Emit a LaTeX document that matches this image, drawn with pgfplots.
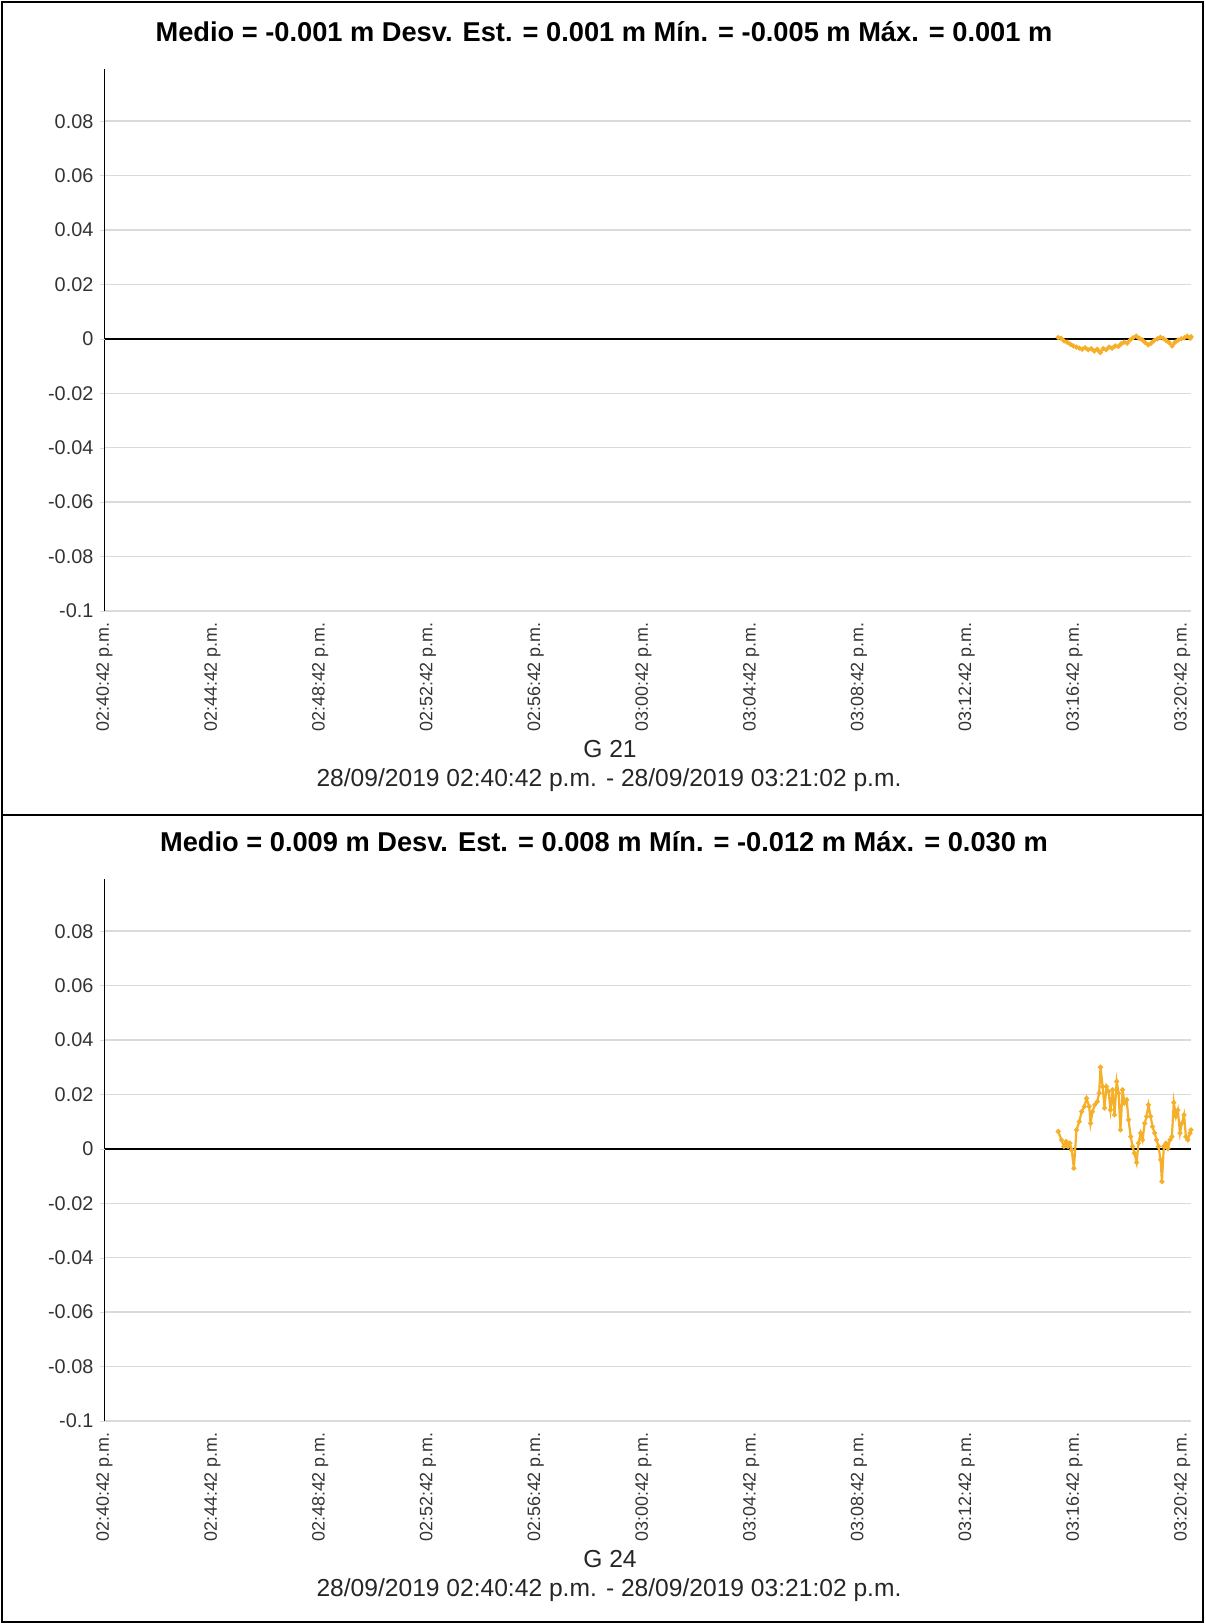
\documentclass[border=0pt]{standalone}
\usepackage{fontspec}
\setmainfont{Liberation Sans}
\usepackage{pgfplots}
\pgfplotsset{compat=1.18}

\definecolor{serie}{RGB}{245,175,40}
\definecolor{rejilla}{RGB}{218,218,218}

% minutes since 02:40:42 p.m., value in m
\pgfplotstableread{
m v
35.40 0.0005
35.51 0.0002
35.62 -0.0008
35.73 -0.0012
35.85 -0.0020
35.96 -0.0026
36.07 -0.0030
36.18 -0.0034
36.29 -0.0038
36.40 -0.0033
36.51 -0.0040
36.63 -0.0036
36.74 -0.0045
36.85 -0.0038
36.96 -0.0050
37.07 -0.0036
37.18 -0.0040
37.29 -0.0030
37.40 -0.0034
37.52 -0.0026
37.63 -0.0028
37.74 -0.0018
37.85 -0.0012
37.96 -0.0016
38.07 -0.0004
38.18 0.0004
38.30 0.0010
38.41 0.0002
38.52 -0.0004
38.63 -0.0014
38.74 -0.0022
38.85 -0.0016
38.96 -0.0006
39.08 0.0000
39.19 0.0006
39.30 0.0002
39.41 -0.0006
39.52 -0.0014
39.63 -0.0026
39.74 -0.0012
39.85 -0.0004
39.97 0.0000
40.08 0.0004
40.19 0.0010
40.30 0.0002
40.33 0.0008
}\gveintiuno

\pgfplotstableread{
m v
35.40 0.0064
35.52 0.0033
35.61 0.0009
35.69 0.0027
35.77 0.0009
35.83 0.0021
35.90 -0.0004
35.98 -0.0071
36.08 0.0070
36.18 0.0100
36.27 0.0137
36.37 0.0156
36.45 0.0186
36.55 0.0156
36.60 0.0094
36.67 0.0137
36.76 0.0162
36.85 0.0174
36.92 0.0205
36.97 0.0300
37.05 0.0229
37.12 0.0150
37.19 0.0229
37.27 0.0211
37.34 0.0143
37.42 0.0217
37.49 0.0125
37.57 0.0248
37.64 0.0205
37.71 0.0070
37.79 0.0217
37.86 0.0168
37.94 0.0180
38.01 0.0107
38.09 0.0045
38.16 0.0009
38.23 -0.0016
38.31 -0.0050
38.38 0.0021
38.46 0.0058
38.53 0.0033
38.61 0.0094
38.68 0.0119
38.75 0.0162
38.83 0.0119
38.90 0.0082
38.98 0.0058
39.05 0.0033
39.12 0.0009
39.20 -0.0040
39.25 -0.0120
39.32 0.0009
39.40 0.0021
39.47 0.0002
39.55 0.0033
39.62 0.0045
39.69 0.0170
39.77 0.0119
39.84 0.0143
39.92 0.0058
39.99 0.0094
40.07 0.0125
40.14 0.0045
40.21 0.0033
40.29 0.0058
40.33 0.0070
}\gveinticuatro

\pgfplotsset{
  panel/.style={
    scale only axis, width=217.3mm, height=108.3mm,
    xmin=0, xmax=40.333, ymin=-0.1, ymax=0.099,
    separate axis lines,
    axis x line*=bottom, axis y line*=left,
    x axis line style={draw=rejilla, -},
    y axis line style={draw=black, line width=0.8pt, -},
    ymajorgrids, major grid style={rejilla, line width=0.8pt},
    ytick={-0.1,-0.08,-0.06,-0.04,-0.02,0.02,0.04,0.06,0.08},
    yticklabels={-0.1,-0.08,-0.06,-0.04,-0.02,0.02,0.04,0.06,0.08},
    extra y ticks={0}, extra y tick labels={0},
    extra y tick style={major grid style={black, line width=0.9pt}},
    xtick={0,4,...,40},
    xticklabels={02:40:42 p.m.,02:44:42 p.m.,02:48:42 p.m.,02:52:42 p.m.,
      02:56:42 p.m.,03:00:42 p.m.,03:04:42 p.m.,03:08:42 p.m.,
      03:12:42 p.m.,03:16:42 p.m.,03:20:42 p.m.},
    tick align=outside, major tick length=1mm,
    xtick style={draw=none}, ytick style={draw=rejilla},
    yticklabel style={font=\fontsize{11.3}{13}\selectfont, text=black!80},
    xticklabel style={rotate=90, anchor=east, font=\fontsize{10.2}{12}\selectfont, text=black!80},
  },
  linea/.style={serie, line width=1.25pt, mark=*, mark size=0.7pt,
    mark options={fill=serie, draw=serie}},
}

\begin{document}
\begin{tikzpicture}
\useasboundingbox (0,0) rectangle (241mm,324.8mm);
\draw[line width=0.45mm] (0.4mm,324.4mm) rectangle (240.6mm,161.8mm);
\draw[line width=0.45mm] (0.4mm,161.8mm) rectangle (240.6mm,0.4mm);

\begin{axis}[panel, at={(20.92mm,202.6mm)}, anchor=south west]
\addplot[linea] table[x=m, y=v] {\gveintiuno};
\end{axis}

\begin{axis}[panel, at={(20.92mm,40.6mm)}, anchor=south west]
\addplot[linea] table[x=m, y=v] {\gveinticuatro};
\end{axis}

\node[font=\fontsize{15.5}{18}\selectfont\bfseries] at (120.8mm,318.4mm)
  {Medio = -0.001 m Desv. Est. = 0.001 m Mín. = -0.005 m Máx. = 0.001 m};
\node[font=\fontsize{14}{16}\selectfont, text=black!85] at (122mm,175mm) {G 21};
\node[font=\fontsize{14}{16}\selectfont, text=black!85] at (121.8mm,168.8mm)
  {28/09/2019 02:40:42 p.m. - 28/09/2019 03:21:02 p.m.};

\node[font=\fontsize{15.5}{18}\selectfont\bfseries] at (120.8mm,156.4mm)
  {Medio = 0.009 m Desv. Est. = 0.008 m Mín. = -0.012 m Máx. = 0.030 m};
\node[font=\fontsize{14}{16}\selectfont, text=black!85] at (122mm,13mm) {G 24};
\node[font=\fontsize{14}{16}\selectfont, text=black!85] at (121.8mm,6.8mm)
  {28/09/2019 02:40:42 p.m. - 28/09/2019 03:21:02 p.m.};
\end{tikzpicture}
\end{document}
